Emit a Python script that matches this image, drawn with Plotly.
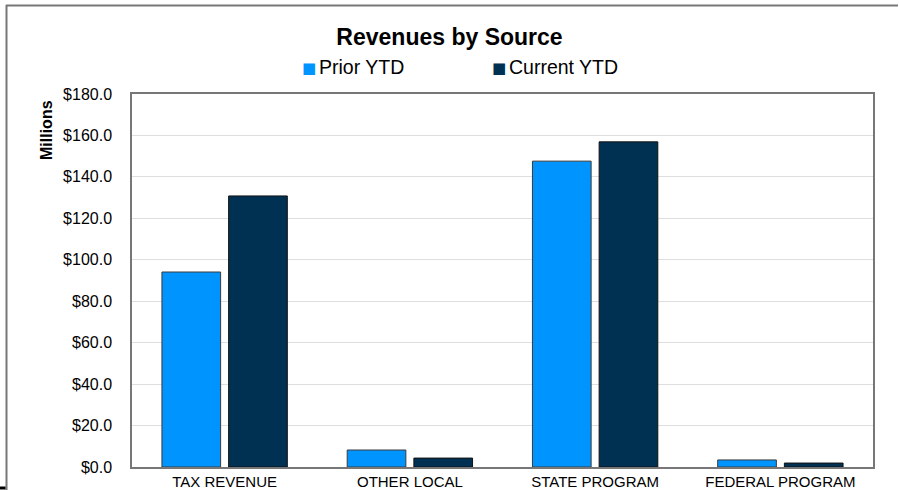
import plotly.graph_objects as go

categories = ["TAX REVENUE", "OTHER LOCAL", "STATE PROGRAM", "FEDERAL PROGRAM"]
prior_ytd = [94.1, 8.2, 147.6, 3.4]
current_ytd = [130.8, 4.3, 156.9, 1.9]
y_ticks = [0, 20, 40, 60, 80, 100, 120, 140, 160, 180]
y_tick_labels = [f"${v:.1f}" for v in y_ticks]

series_names = ["Prior YTD", "Current YTD"]
series_colors = ["#0094FF", "#003052"]

FONT = "Liberation Sans, Arial, sans-serif"

# plot area in pixels
L, R, T, B = 132, 873, 94, 467
W, H = 899, 490
PW, PH = R - L, B - T


def px_x(x):
    return (x - L) / PW


def px_y(y):
    return (B - y) / PH


fig = go.Figure()
for name, values, color, edge in zip(series_names, [prior_ytd, current_ytd],
                                     series_colors, ["#3a3a3a", "#111111"]):
    fig.add_trace(go.Bar(
        x=categories, y=values, name=name,
        marker=dict(color=color, line=dict(color=edge, width=1)),
    ))

# legend drawn by hand so the small squares sit next to the text like the original
legend_x = [309, 499]
annotations = []
for name, color, x in zip(series_names, series_colors, legend_x):
    annotations.append(dict(
        text="■", xref="paper", yref="paper", x=px_x(x), y=px_y(68),
        xanchor="center", yanchor="middle", showarrow=False,
        font=dict(size=15, color=color, family="DejaVu Sans"),
    ))
    annotations.append(dict(
        text=name, xref="paper", yref="paper", x=px_x(x + 8), y=px_y(67),
        xanchor="left", yanchor="middle", showarrow=False,
        font=dict(size=19.5),
    ))
annotations.append(dict(
    text="<b>Millions</b>", textangle=-90, xref="paper", yref="paper",
    x=px_x(46), y=px_y(130), xanchor="center", yanchor="middle",
    showarrow=False, font=dict(size=16),
))

fig.update_layout(
    width=W, height=H,
    margin=dict(l=L, r=W - R, t=T, b=H - B, autoexpand=False),
    paper_bgcolor="white", plot_bgcolor="white",
    font=dict(family=FONT, color="black", size=16),
    title=dict(text="<b>Revenues by Source</b>", x=0.5, xanchor="center",
               y=1 - 37 / H, yanchor="middle", font=dict(size=23)),
    barmode="group", bargap=0.28, bargroupgap=0.12,
    showlegend=False,
    xaxis=dict(showline=True, linecolor="#777", linewidth=1.5, mirror=True,
               ticks="", ticklabelstandoff=0, tickfont=dict(size=15),
               automargin=False),
    yaxis=dict(range=[0, 180], tickvals=y_ticks, ticktext=y_tick_labels,
               showgrid=True, gridcolor="#dedede", showline=True,
               linecolor="#777", linewidth=1.5, mirror=True,
               ticks="", ticklabelstandoff=15, tickfont=dict(size=16),
               zeroline=False, automargin=False),
    shapes=[
        # outer chart frame (top and left edges visible)
        dict(type="line", xref="paper", yref="paper",
             x0=px_x(6), x1=px_x(898), y0=px_y(5.5), y1=px_y(5.5),
             line=dict(color="#777", width=2)),
        dict(type="line", xref="paper", yref="paper",
             x0=px_x(6.5), x1=px_x(6.5), y0=px_y(5), y1=px_y(H),
             line=dict(color="#777", width=2)),
        dict(type="line", xref="paper", yref="paper",
             x0=px_x(0), x1=px_x(5.5), y0=px_y(488), y1=px_y(488),
             line=dict(color="black", width=3)),
    ],
    annotations=annotations,
)

fig.write_html("out.html", config={"displayModeBar": False},
               post_script="document.body.style.margin='0';")
